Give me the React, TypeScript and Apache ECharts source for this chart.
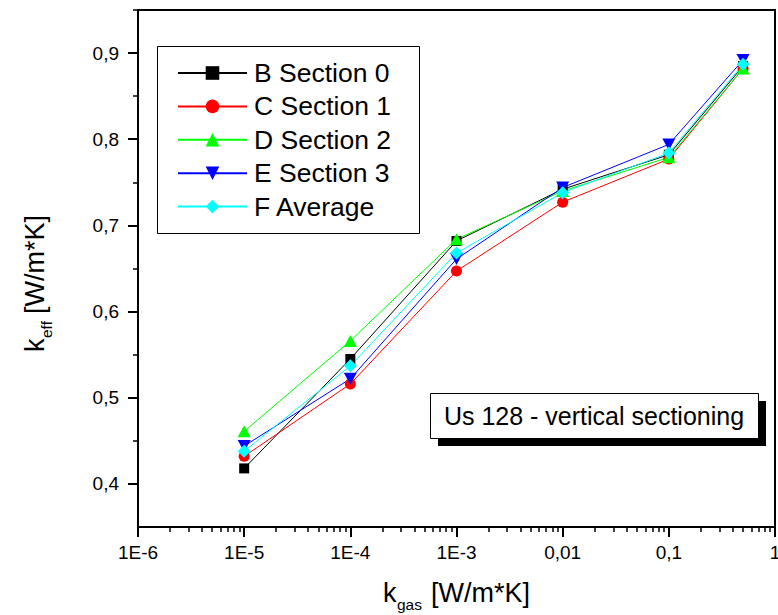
import React, { useEffect, useRef } from "react";
import * as echarts from "echarts";

// k_gas values [W/m*K]
const xValues = [1e-5, 1e-4, 1e-3, 0.01, 0.1, 0.5];
const seriesNames = ["B Section 0", "C Section 1", "D Section 2", "E Section 3", "F Average"];
const section0 = [0.418, 0.545, 0.682, 0.742, 0.782, 0.885];
const section1 = [0.432, 0.516, 0.647, 0.727, 0.777, 0.882];
const section2 = [0.461, 0.566, 0.684, 0.740, 0.779, 0.882];
const section3 = [0.444, 0.522, 0.661, 0.744, 0.794, 0.892];
const average = [0.438, 0.537, 0.668, 0.738, 0.784, 0.887];

const xTickLabels = ["1E-6", "1E-5", "1E-4", "1E-3", "0,01", "0,1", "1"];
const xDecades = [-6, -5, -4, -3, -2, -1];
const xMinorMultipliers = [2, 3, 4, 5, 6, 7, 8, 9];
const yTickValues = [0.4, 0.5, 0.6, 0.7, 0.8, 0.9];
const yMinorTickValues = [0.45, 0.55, 0.65, 0.75, 0.85, 0.95];

const FONT = "Liberation Sans, Arial, sans-serif";

export default function App() {
  const ref = useRef<HTMLDivElement>(null);
  useEffect(() => {
    if (!ref.current) return;
    const chart = echarts.init(ref.current, null, { renderer: "svg" });
    const xMinor: number[] = [];
    xDecades.forEach((d) => xMinorMultipliers.forEach((m) => xMinor.push(d + Math.log10(m))));

    const styles = [
      { color: "#000000", symbol: "rect", size: 10, rotate: 0 },
      { color: "#ff0000", symbol: "circle", size: 11, rotate: 0 },
      { color: "#00ff00", symbol: "triangle", size: [13, 12], rotate: 0 },
      { color: "#0000ff", symbol: "triangle", size: [13, 12], rotate: 180 },
      { color: "#00ffff", symbol: "diamond", size: 13, rotate: 0 },
    ];
    const allData = [section0, section1, section2, section3, average];

    const series = allData.map((ys, i) => ({
      name: seriesNames[i],
      type: "line",
      xAxisIndex: 0,
      yAxisIndex: 0,
      data: xValues.map((x, j) => [Math.log10(x), ys[j]]),
      symbol: styles[i].symbol,
      symbolSize: styles[i].size,
      symbolRotate: styles[i].rotate,
      lineStyle: { color: styles[i].color, width: 1 },
      itemStyle: { color: styles[i].color },
      emphasis: { disabled: true },
      silent: true,
    }));

    const option: any = {
      animation: false,
      textStyle: { fontFamily: FONT },
      grid: {
        left: 138,
        right: 3,
        top: 10,
        bottom: 88,
        show: true,
        borderColor: "#000",
        borderWidth: 2,
        containLabel: false,
        outerBoundsMode: "none",
      },
      legend: {
        orient: "vertical",
        left: 177,
        top: 59.5,
        padding: 0,
        itemWidth: 69,
        itemHeight: 17,
        itemGap: 6.4,
        selectedMode: false,
        data: seriesNames,
        textStyle: { fontSize: 26.5, color: "#000", fontFamily: FONT, padding: [0, 0, 0, 2] },
      },
      xAxis: [
        {
          type: "value",
          min: -6,
          max: 0,
          interval: 1,
          position: "bottom",
          axisLine: { show: true, onZero: false, lineStyle: { color: "#000", width: 2 } },
          axisTick: { show: true, length: 10, lineStyle: { color: "#000", width: 2 } },
          axisLabel: {
            show: true,
            margin: 16,
            fontSize: 19,
            color: "#000",
            fontFamily: FONT,
            showMaxLabel: true,
            showMinLabel: true,
            formatter: (v: number) => xTickLabels[Math.round(v) + 6],
          },
          splitLine: { show: false },
        },
        {
          type: "value",
          min: -6,
          max: 0,
          position: "bottom",
          axisLine: { show: false, onZero: false },
          axisTick: { show: true, length: 5, customValues: xMinor, lineStyle: { color: "#000", width: 1.5 } },
          axisLabel: { show: false },
          splitLine: { show: false },
        },
      ],
      yAxis: [
        {
          type: "value",
          min: 0.35,
          max: 0.95,
          position: "left",
          axisLine: { show: true, onZero: false, lineStyle: { color: "#000", width: 2 } },
          axisTick: { show: true, length: 10, customValues: yTickValues, lineStyle: { color: "#000", width: 2 } },
          axisLabel: {
            show: true,
            margin: 19,
            fontSize: 19,
            color: "#000",
            fontFamily: FONT,
            customValues: yTickValues,
            formatter: (v: number) => v.toFixed(1).replace(".", ","),
          },
          splitLine: { show: false },
        },
        {
          type: "value",
          min: 0.35,
          max: 0.95,
          position: "left",
          axisLine: { show: false, onZero: false },
          axisTick: { show: true, length: 5, customValues: yMinorTickValues, lineStyle: { color: "#000", width: 1.5 } },
          axisLabel: { show: false },
          splitLine: { show: false },
        },
      ],
      graphic: [
        {
          type: "rect",
          shape: { x: 157.5, y: 46.5, width: 262, height: 187 },
          style: { fill: "none", stroke: "#000", lineWidth: 1 },
          silent: true,
        },
        {
          type: "rect",
          shape: { x: 438, y: 401, width: 328, height: 45 },
          style: { fill: "#000" },
          silent: true,
        },
        {
          type: "rect",
          shape: { x: 430.5, y: 393.5, width: 328, height: 45 },
          style: { fill: "#fff", stroke: "#000", lineWidth: 1 },
          silent: true,
        },
        {
          type: "text",
          x: 594,
          y: 416,
          style: {
            text: "Us 128 - vertical sectioning",
            fontSize: 25,
            fontFamily: FONT,
            fill: "#000",
            textAlign: "center",
            textVerticalAlign: "middle",
          },
          silent: true,
        },
        // x axis title
        {
          type: "text",
          x: 383,
          y: 592.5,
          style: { text: "k", fontSize: 27, fontFamily: FONT, fill: "#000", textAlign: "left", textVerticalAlign: "middle" },
          silent: true,
        },
        {
          type: "text",
          x: 397,
          y: 604.6,
          style: { text: "gas", fontSize: 15.5, fontFamily: FONT, fill: "#000", textAlign: "left", textVerticalAlign: "middle" },
          silent: true,
        },
        {
          type: "text",
          x: 431,
          y: 592.5,
          style: { text: "[W/m*K]", fontSize: 27, fontFamily: FONT, fill: "#000", textAlign: "left", textVerticalAlign: "middle" },
          silent: true,
        },
        // y axis title (rotated)
        {
          type: "group",
          x: 44,
          y: 352,
          rotation: Math.PI / 2,
          silent: true,
          children: [
            {
              type: "text",
              x: 0,
              y: -9.5,
              style: { text: "k", fontSize: 27, fontFamily: FONT, fill: "#000", textAlign: "left", textVerticalAlign: "middle" },
            },
            {
              type: "text",
              x: 14,
              y: 2.6,
              style: { text: "eff", fontSize: 15.5, fontFamily: FONT, fill: "#000", textAlign: "left", textVerticalAlign: "middle" },
            },
            {
              type: "text",
              x: 38,
              y: -9.5,
              style: { text: "[W/m*K]", fontSize: 27, fontFamily: FONT, fill: "#000", textAlign: "left", textVerticalAlign: "middle" },
            },
          ],
        },
      ],
      series,
    };
    chart.setOption(option);
    return () => chart.dispose();
  }, []);
  return (
    <div
      ref={ref}
      style={{ position: "fixed", left: 0, top: 0, width: 778, height: 615, background: "#fff" }}
    />
  );
}
